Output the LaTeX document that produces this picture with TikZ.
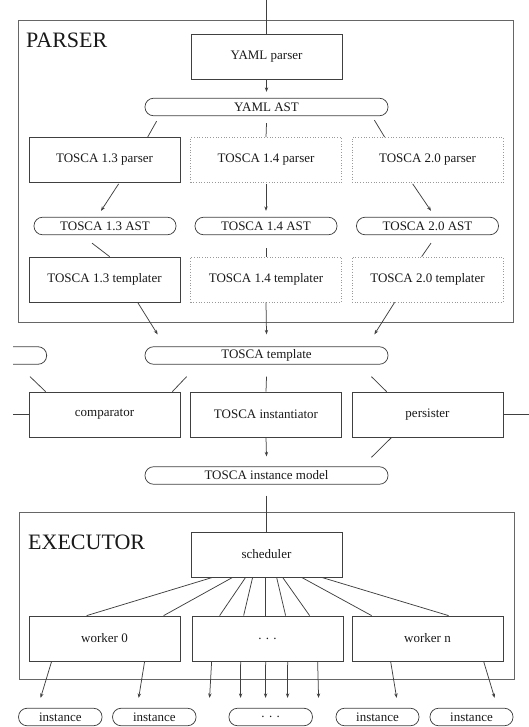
\documentclass[tikz,border=0pt]{standalone}
\usepackage{fontspec}
\setmainfont{Liberation Serif}
\usetikzlibrary{arrows.meta}
\begin{document}
\begin{tikzpicture}[x=1pt,y=-1pt,
  txt/.style={font=\fontsize{13}{15}\selectfont, text=black!90},
  box/.style={txt, draw=black!75, line width=0.75pt, minimum width=151pt, minimum height=45pt, inner sep=0pt},
  stub/.style={box, draw=black!40, line width=0.7pt, dotted},
  data/.style={txt, draw=black!75, line width=0.75pt, rounded corners=8.5pt, minimum height=17.5pt, inner sep=0pt},
  frame/.style={draw=black!60, line width=0.75pt, inner sep=0pt, anchor=north west},
  title/.style={font=\fontsize{22}{26}\selectfont, text=black!90, anchor=base west, inner sep=0pt},
  link/.style={draw=black!75, line width=0.75pt},
  flow/.style={link, -{Stealth[length=4.5pt,width=3.4pt]}}
]
\useasboundingbox (0,0) rectangle (529,727);
\clip (13,0) rectangle (529,727);

% ---------- parser ----------
\node (parser) [frame, minimum width=495pt, minimum height=302pt] at (18,20) {};
\node (parsertitle) [title] at (26,48) {PARSER};
\coordinate (in) at (266.5,0);

\node (yp)   [box]  at (266.5,56.5) {YAML parser};
\node (yast) [data, minimum width=243pt] at (266.5,107) {YAML AST};

\node (p13) [box]  at (104.5,160) {TOSCA 1.3 parser};
\node (p14) [stub] at (266,160)   {TOSCA 1.4 parser};
\node (p20) [stub] at (427.5,160) {TOSCA 2.0 parser};

\node (a13) [data, minimum width=142pt] at (105,226)   {TOSCA 1.3 AST};
\node (a14) [data, minimum width=142pt] at (266,226)   {TOSCA 1.4 AST};
\node (a20) [data, minimum width=142pt] at (427.5,226) {TOSCA 2.0 AST};

\node (t13) [box]  at (104.5,279.5) {TOSCA 1.3 templater};
\node (t14) [stub] at (266,279.5)   {TOSCA 1.4 templater};
\node (t20) [stub] at (427.5,279.5) {TOSCA 2.0 templater};

\draw[link] (in) -- (yp.north);
\draw[flow] (yp.south) -- ([shift={(0,-6)}]yast.north);
\draw[link] ([shift={(12,5)}]yast.south west) -- ([shift={(119,0)}]p13.north west);
\draw[link] ([shift={(0,7)}]yast.south) -- (p14.north);
\draw[link] ([shift={(-14,4)}]yast.south east) -- ([shift={(33,0)}]p20.north west);

\draw[flow] ([shift={(90,1)}]p13.south west) -- ([shift={(-4,-6)}]a13.north);
\draw[flow] ([shift={(0,1)}]p14.south) -- ([shift={(0,-6)}]a14.north);
\draw[flow] ([shift={(61,1)}]p20.south west) -- ([shift={(3.5,-6)}]a20.north);

\draw[link] ([shift={(-13,8)}]a13.south) -- ([shift={(81,0)}]t13.north west);
\draw[link] ([shift={(0,13)}]a14.south) -- (t14.north);
\draw[link] ([shift={(3.5,8)}]a20.south) -- ([shift={(70,0)}]t20.north west);

% ---------- template stage ----------
\node (prev) [data, minimum width=150pt, anchor=east] at (47,355.5) {};
\node (tmpl) [data, minimum width=243pt] at (266.5,355.5) {TOSCA template};

\node (comp) [box] at (104.5,414.5) {comparator};
\node (inst) [box] at (266,414.5)   {TOSCA instantiator};
\node (pers) [box] at (427.5,414.5) {persister};
\coordinate (back) at (0,414.5);
\coordinate (out) at (529,414.5);

\node (model) [data, minimum width=243pt] at (266.5,475.5) {TOSCA instance model};

\draw[flow] ([shift={(109,0)}]t13.south west) -- ([shift={(13,-12)}]tmpl.north west);
\draw[flow] (t14.south) -- ([shift={(0,-12)}]tmpl.north);
\draw[flow] ([shift={(43,0)}]t20.south west) -- ([shift={(-14,-12)}]tmpl.north east);

\draw[link] ([shift={(-17,12)}]prev.south east) -- ([shift={(17,0)}]comp.north west);
\draw[link] ([shift={(42,12)}]tmpl.south west) -- ([shift={(-8,0)}]comp.north east);
\draw[link] ([shift={(0,12)}]tmpl.south) -- (inst.north);
\draw[link] ([shift={(-17,12)}]tmpl.south east) -- ([shift={(35,0)}]pers.north west);
\draw[link] (back) -- (comp.west);
\draw[link] (pers.east) -- (out);

\draw[flow] (inst.south) -- ([shift={(0,-10)}]model.north);
\draw[link] ([shift={(40,0)}]pers.south west) -- ([shift={(-17,-9)}]model.north east);

% ---------- executor ----------
\node (executor) [frame, minimum width=495pt, minimum height=167pt] at (18.5,512) {};
\node (exectitle) [title] at (28,549) {EXECUTOR};

\node (sched) [box] at (266.5,554.5) {scheduler};
\node (w0) [box] at (104.5,638.5) {worker 0};
\node (wd) [box] at (267.5,638.5) {. . .};
\node (wn) [box] at (427.5,638.5) {worker n};

\node (i1) [data, minimum width=83.5pt] at (60.3,717)  {instance};
\node (i2) [data, minimum width=83.5pt] at (154.3,717) {instance};
\node (i3) [data, minimum width=83.5pt] at (270.7,717) {. . .};
\node (i4) [data, minimum width=83pt]   at (377.5,717) {instance};
\node (i5) [data, minimum width=83pt]   at (471.5,717) {instance};

\draw[link] ([shift={(0,11)}]model.south) -- (sched.north);

\draw[link] ([shift={(22,0)}]sched.south west)  -- ([shift={(58,0)}]w0.north west);
\draw[link] ([shift={(42,0)}]sched.south west)  -- ([shift={(135,0)}]w0.north west);
\draw[link] ([shift={(55,0)}]sched.south west)  -- ([shift={(28,0)}]wd.north west);
\draw[link] ([shift={(62,0)}]sched.south west)  -- ([shift={(52,0)}]wd.north west);
\draw[link] ([shift={(75,0)}]sched.south west)  -- ([shift={(74,0)}]wd.north west);
\draw[link] ([shift={(86,0)}]sched.south west)  -- ([shift={(94,0)}]wd.north west);
\draw[link] ([shift={(92,0)}]sched.south west)  -- ([shift={(118,0)}]wd.north west);
\draw[link] ([shift={(111,0)}]sched.south west) -- ([shift={(20,0)}]wn.north west);
\draw[link] ([shift={(131,0)}]sched.south west) -- ([shift={(97,0)}]wn.north west);

\draw[flow] ([shift={(23,0)}]w0.south west)  -- ([shift={(22.4,-10)}]i1.north west);
\draw[flow] ([shift={(116,0)}]w0.south west) -- ([shift={(26.5,-10)}]i2.north west);
\draw[flow] ([shift={(20,0)}]wd.south west)  -- ([shift={(-19,-10)}]i3.north west);
\draw[flow] ([shift={(49,0)}]wd.south west)  -- ([shift={(12,-10)}]i3.north west);
\draw[flow] ([shift={(74,0)}]wd.south west)  -- ([shift={(37,-10)}]i3.north west);
\draw[flow] ([shift={(96,0)}]wd.south west)  -- ([shift={(59,-10)}]i3.north west);
\draw[flow] ([shift={(126,0)}]wd.south west) -- ([shift={(90,-10)}]i3.north west);
\draw[flow] ([shift={(39,0)}]wn.south west)  -- ([shift={(61,-10)}]i4.north west);
\draw[flow] ([shift={(132,0)}]wn.south west) -- ([shift={(65,-10)}]i5.north west);
\end{tikzpicture}
\end{document}
